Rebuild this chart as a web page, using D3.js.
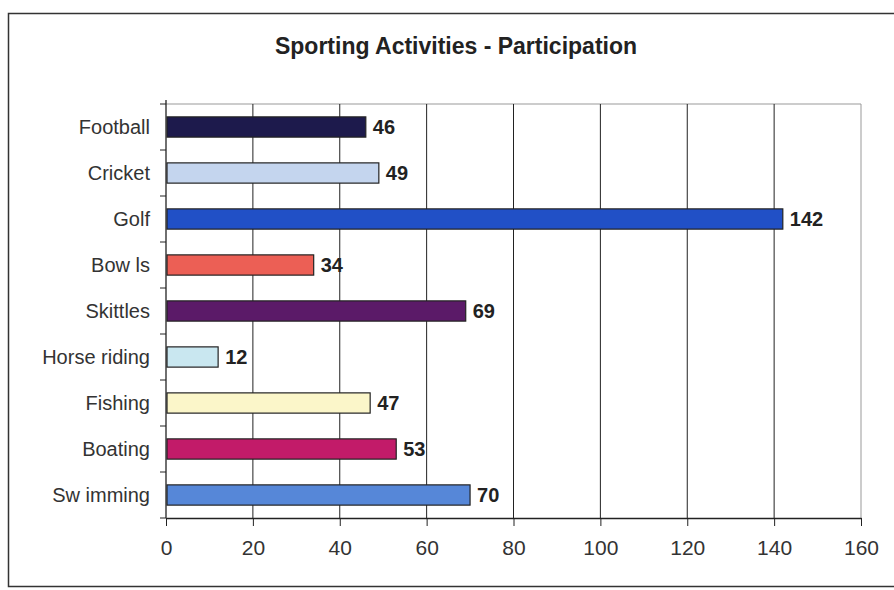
<!DOCTYPE html>
<html>
<head>
<meta charset="utf-8">
<script src="https://cdn.jsdelivr.net/npm/d3@7"></script>
<style>
  body { margin: 0; background: #fff; }
  svg { display: block; font-family: "Liberation Sans", Arial, sans-serif; }
</style>
</head>
<body>
<div id="chart"></div>
<script>
let width_chart = 894;
let height_chart = 590;

// données
const sports = ["Football", "Cricket", "Golf", "Bow ls", "Skittles", "Horse riding", "Fishing", "Boating", "Sw imming"];
const participation = [46, 49, 142, 34, 69, 12, 47, 53, 70];
const couleurs = ["#1d1a4c", "#c4d5ee", "#2150c6", "#ec5f55", "#5b1a68", "#c9e7f0", "#fbf6c9", "#c21b69", "#5687d8"];
const ticks_x = [0, 20, 40, 60, 80, 100, 120, 140, 160];

const margin = {left: 166, right: 33, top: 104, bottom: 72};

let svg = d3.select('#chart').append('svg')
    .attr('width', width_chart)
    .attr('height', height_chart);

// cadre du graphique
svg.append("rect")
    .attr("x", 8.5).attr("y", 13.5)
    .attr("width", 900).attr("height", 573)
    .attr("fill", "none")
    .attr("stroke", "#333")
    .attr("stroke-width", 1.5);

svg.append("text")
    .attr("x", 456).attr("y", 54)
    .attr("text-anchor", "middle")
    .style("font-size", "23px")
    .style("font-weight", "bold")
    .attr("fill", "#222")
    .text("Sporting Activities - Participation");

var x = d3.scaleLinear()
    .domain([0, 160])
    .range([margin.left, width_chart - margin.right]);

var y = d3.scaleBand()
    .domain(sports)
    .range([margin.top, height_chart - margin.bottom])
    .paddingInner(0.56)
    .paddingOuter(0.28);

var plot_top = margin.top, plot_bottom = height_chart - margin.bottom;

// bord de la zone de tracé
svg.append("path")
    .attr("d", "M" + x(0) + "," + plot_top + "H" + x(160) + "V" + plot_bottom)
    .attr("fill", "none")
    .attr("stroke", "#999");

// grille verticale
svg.append("g")
    .selectAll("line")
    .data(ticks_x.slice(1, -1))
    .enter().append("line")
    .attr("x1", d => x(d)).attr("x2", d => x(d))
    .attr("y1", plot_top).attr("y2", plot_bottom)
    .attr("stroke", "#222");

// axe x
var axe_x = svg.append("g")
    .attr("transform", "translate(0," + plot_bottom + ")")
    .call(d3.axisBottom(x).tickValues(ticks_x).tickSize(8).tickSizeOuter(0).tickPadding(14));
axe_x.select(".domain").attr("stroke", "#222").attr("stroke-width", 1.3);
axe_x.selectAll(".tick line").attr("stroke", "#222");
axe_x.selectAll("text")
    .style("font-size", "21px")
    .style("font-family", "Liberation Sans, Arial, sans-serif")
    .attr("fill", "#333");

// axe y
var step = y.step();
var bornes = d3.range(sports.length + 1).map(i => plot_top + i * step);
var axe_y = svg.append("g");
axe_y.append("line")
    .attr("x1", x(0)).attr("x2", x(0))
    .attr("y1", plot_top - 4).attr("y2", plot_bottom)
    .attr("stroke", "#222").attr("stroke-width", 1.3);
axe_y.selectAll(".tk")
    .data(bornes)
    .enter().append("line")
    .attr("class", "tk")
    .attr("x1", x(0) - 6).attr("x2", x(0))
    .attr("y1", d => d).attr("y2", d => d)
    .attr("stroke", "#222");
axe_y.selectAll(".lab")
    .data(sports)
    .enter().append("text")
    .attr("class", "lab")
    .attr("x", x(0) - 16)
    .attr("y", d => y(d) + y.bandwidth() / 2)
    .attr("dy", "0.35em")
    .attr("text-anchor", "end")
    .style("font-size", "20px")
    .attr("fill", "#333")
    .text(d => d);

// barres
var barres = svg.append("g").selectAll("g")
    .data(sports)
    .enter().append("g");

barres.append("rect")
    .attr("x", x(0) + 1)
    .attr("y", d => y(d))
    .attr("width", (d, i) => x(participation[i]) - x(0) - 1)
    .attr("height", y.bandwidth())
    .attr("fill", (d, i) => couleurs[i])
    .attr("stroke", "#222")
    .attr("stroke-width", 1.2);

barres.append("text")
    .attr("x", (d, i) => x(participation[i]) + 7)
    .attr("y", d => y(d) + y.bandwidth() / 2)
    .attr("dy", "0.35em")
    .style("font-size", "20px")
    .style("font-weight", "bold")
    .attr("fill", "#222")
    .text((d, i) => participation[i]);
</script>
</body>
</html>
